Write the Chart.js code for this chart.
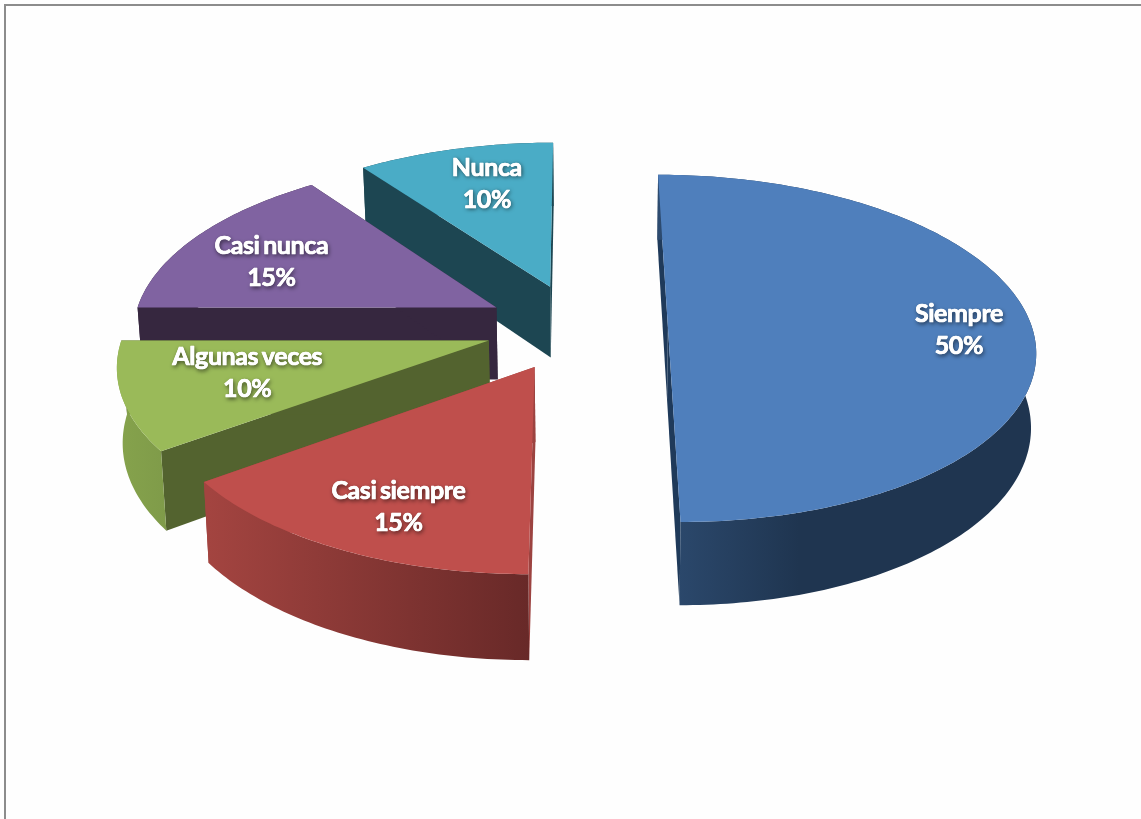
<!DOCTYPE html>
<html>
<head>
<meta charset="utf-8">
<title>Frecuencia</title>
<script src="https://cdn.jsdelivr.net/npm/chart.js@4/dist/chart.umd.min.js"></script>
<style>
  html, body { margin: 0; padding: 0; background: #fefefe; }
  canvas { display: block; }
</style>
</head>
<body>
<canvas id="pie" width="1141" height="819"></canvas>
<script>
// Answer categories and their shares, clockwise from twelve o'clock
const categories = ['Siempre', 'Casi siempre', 'Algunas veces', 'Casi nunca', 'Nunca'];
const percentages = [50, 15, 10, 15, 10];

// Face colours per slice
const topColors = ['#4f7fbc', '#bf4f4c', '#9aba59', '#8063a1', '#4aacc6'];
const cutColors = ['#1f3a5a', '#9c4340', '#53632f', '#36273f', '#1d4652'];
const rimStops = [
  [[0, '#2d4b70'], [0.38, '#1f3550'], [1, '#1f3550']],
  [[0, '#a34440'], [1, '#682928']],
  [[0, '#85a24c'], [1, '#7f9b49']],
  [[0, '#36273f'], [1, '#36273f']],
  [[0, '#1d4652'], [1, '#1d4652']]
];

// Perspective camera for the tilted disc, in unit-radius coordinates.
// The underside sits further away, so it shrinks slightly toward xVanish.
const camera = { x0: 578, y0: 327, ax: 364, ay: 171, persp: 0.123, depth: 73, xVanish: 600, lowScale: 0.988 };
const explode = [0.247, 0.255, 0.255, 0.255, 0.255];
const labelReach = 0.75;
const labelNudge = [[18, 3], [7, 8], [31, -9], [2, 9], [10, 3]];

function project(u, v, lowered) {
  const w = 1 - camera.persp * v;
  const x = camera.x0 + camera.ax * u / w;
  return {
    x: lowered ? camera.xVanish + (x - camera.xVanish) * camera.lowScale : x,
    y: camera.y0 + (camera.ay * v + (lowered ? camera.depth : 0)) / w
  };
}

function trace(ctx, points) {
  ctx.beginPath();
  points.forEach((p, i) => i ? ctx.lineTo(p.x, p.y) : ctx.moveTo(p.x, p.y));
  ctx.closePath();
}

function drawSlice(ctx, arc, i) {
  const { startAngle, endAngle } = arc.getProps(['startAngle', 'endAngle'], true);
  const mid = (startAngle + endAngle) / 2;
  const ox = explode[i] * Math.cos(mid), oy = explode[i] * Math.sin(mid);
  const steps = Math.max(8, Math.ceil((endAngle - startAngle) * 60));
  const rimTop = [], rimLow = [];
  for (let s = 0; s <= steps; s++) {
    const a = startAngle + (endAngle - startAngle) * s / steps;
    rimTop.push(project(ox + Math.cos(a), oy + Math.sin(a), false));
    rimLow.push(project(ox + Math.cos(a), oy + Math.sin(a), true));
  }
  const hubTop = project(ox, oy, false), hubLow = project(ox, oy, true);

  // Flat cut faces running from the hub to each end of the rim
  ctx.fillStyle = cutColors[i];
  [0, steps].forEach(k => {
    trace(ctx, [hubTop, rimTop[k], rimLow[k], hubLow]);
    ctx.fill();
  });

  // Curved outer wall, shaded left to right across its width
  const xs = rimLow.map(p => p.x);
  const shade = ctx.createLinearGradient(Math.min(...xs), 0, Math.max(...xs), 0);
  rimStops[i].forEach(([t, c]) => shade.addColorStop(t, c));
  ctx.fillStyle = shade;
  trace(ctx, rimTop.concat(rimLow.slice().reverse()));
  ctx.fill();

  // Top face
  ctx.fillStyle = topColors[i];
  trace(ctx, [hubTop].concat(rimTop));
  ctx.fill();
}

function drawLabel(ctx, arc, i) {
  const { startAngle, endAngle } = arc.getProps(['startAngle', 'endAngle'], true);
  const mid = (startAngle + endAngle) / 2;
  const reach = explode[i] + labelReach;
  const p = project(reach * Math.cos(mid), reach * Math.sin(mid), false);
  const x = p.x + labelNudge[i][0], y = p.y + labelNudge[i][1];
  const lines = [[categories[i], y - 16], [percentages[i] + '%', y + 16]];
  ctx.save();
  ctx.font = 'bold 25px Lato, "Open Sans", sans-serif';
  ctx.letterSpacing = '-0.4px';
  ctx.wordSpacing = '-2px';
  ctx.textAlign = 'center';
  ctx.textBaseline = 'middle';
  ctx.lineJoin = 'round';
  ctx.fillStyle = '#ffffff';
  ctx.strokeStyle = '#ffffff';
  ctx.lineWidth = 0.7;
  ctx.shadowColor = 'rgba(0,0,0,0.7)';
  ctx.shadowBlur = 4;
  ctx.shadowOffsetX = 1;
  ctx.shadowOffsetY = 1.5;
  lines.forEach(([text, ty]) => ctx.fillText(text, x, ty));
  ctx.shadowColor = 'transparent';
  lines.forEach(([text, ty]) => {
    ctx.strokeText(text, x, ty);
    ctx.fillText(text, x, ty);
  });
  ctx.restore();
}

// Replaces the flat arc rendering with extruded, perspective-projected slices
const extrudedPie = {
  id: 'extrudedPie',
  beforeDatasetDraw(chart, args) {
    const ctx = chart.ctx;
    const arcs = args.meta.data;
    const depthOf = k => {
      const a = arcs[k].getProps(['startAngle', 'endAngle'], true);
      return Math.sin((a.startAngle + a.endAngle) / 2);
    };
    const order = arcs.map((_, k) => k).sort((a, b) => depthOf(a) - depthOf(b));
    ctx.save();
    order.forEach(k => drawSlice(ctx, arcs[k], k));
    arcs.forEach((arc, k) => drawLabel(ctx, arc, k));
    ctx.restore();
    return false;
  }
};

// Gray frame on the top and left edges of the sheet
const sheetFrame = {
  id: 'sheetFrame',
  beforeDraw(chart) {
    const ctx = chart.ctx;
    ctx.save();
    ctx.fillStyle = '#fefefe';
    ctx.fillRect(0, 0, chart.width, chart.height);
    ctx.fillStyle = '#8c8c8c';
    ctx.fillRect(4, 4, chart.width - 4, 2);
    ctx.fillRect(4, 4, 2, chart.height - 4);
    ctx.restore();
  }
};

new Chart(document.getElementById('pie'), {
  type: 'pie',
  data: {
    labels: categories,
    datasets: [{ data: percentages, backgroundColor: topColors, borderWidth: 0 }]
  },
  options: {
    responsive: false,
    animation: false,
    events: [],
    plugins: { legend: { display: false }, tooltip: { enabled: false } }
  },
  plugins: [sheetFrame, extrudedPie]
});
</script>
</body>
</html>
